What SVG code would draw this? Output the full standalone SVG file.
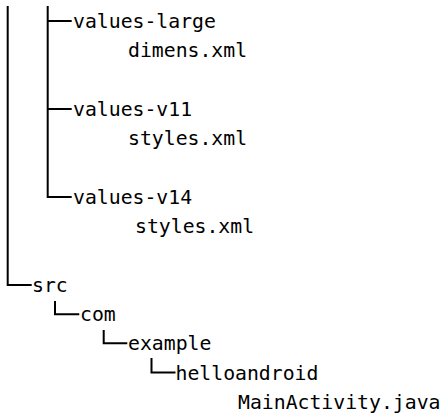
<svg xmlns="http://www.w3.org/2000/svg" width="443" height="417" viewBox="0 0 443 417">
<style>
text { font-family: "DejaVu Sans Mono", "Liberation Mono", monospace; font-size: 19.8px; fill: #000; }
.tree { fill: none; stroke: #000; stroke-width: 2; stroke-linecap: butt; }
</style>
<rect width="443" height="417" fill="#fff"/>
<g id="connectors">
  <path class="tree" d="M7.7 6 V285 H31.7"/>
  <path class="tree" d="M47.7 6 V197 H71.7"/>
  <path class="tree" d="M47.7 21 H71.7"/>
  <path class="tree" d="M47.7 109 H71.7"/>
  <path class="tree" d="M55 301 V314.3 H79.3"/>
  <path class="tree" d="M103.7 330 V343.3 H127.3"/>
  <path class="tree" d="M151.5 358 V372.5 H175.5"/>
</g>
<g id="values-large"><text x="73" y="27.5">values-large</text></g>
<g id="dimens-xml"><text x="128" y="56.8">dimens.xml</text></g>
<g id="values-v11"><text x="73" y="115.5">values-v11</text></g>
<g id="styles-xml-v11"><text x="128" y="144.8">styles.xml</text></g>
<g id="values-v14"><text x="73" y="203.5">values-v14</text></g>
<g id="styles-xml-v14"><text x="135" y="232.8">styles.xml</text></g>
<g id="src"><text x="32" y="291.5">src</text></g>
<g id="com"><text x="80" y="320.8">com</text></g>
<g id="example"><text x="128" y="350.2">example</text></g>
<g id="helloandroid"><text x="175.5" y="379.5">helloandroid</text></g>
<g id="mainactivity"><text x="238" y="408.8">MainActivity.java</text></g>
</svg>
